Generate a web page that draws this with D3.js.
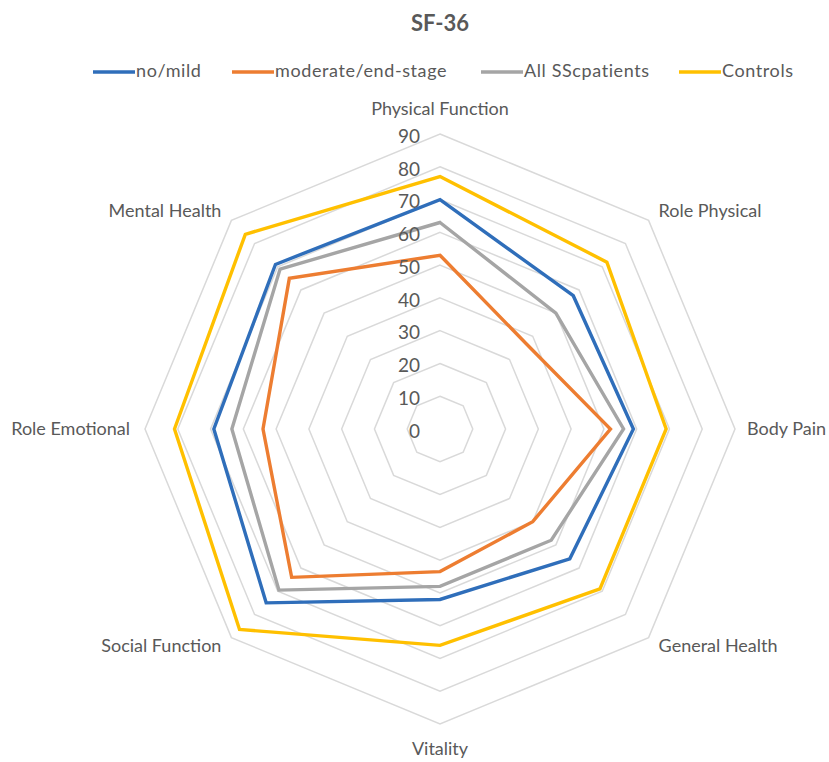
<!DOCTYPE html>
<html>
<head>
<meta charset="utf-8">
<script src="https://cdn.jsdelivr.net/npm/d3@7"></script>
<style>
  body { margin:0; background:#fff; }
  svg text { font-family: Lato, "Open Sans", sans-serif; fill:#595959; }
</style>
</head>
<body>
<svg id="chart" width="829" height="762"></svg>
<script>
'use strict';
const axes = ['Physical Function','Role Physical','Body Pain','General Health','Vitality','Social Function','Role Emotional','Mental Health'];
const seriesNames = ['no/mild','moderate/end-stage','All SScpatients','Controls'];
const noMild   = [70, 57.5, 59, 56, 52, 75, 69, 71];
const moderate = [53, 37, 52, 40, 43.5, 64, 54, 65];
const allSSc   = [63, 50, 56, 48, 48, 69.5, 63.5, 69];
const controls = [77, 72, 69, 69, 66, 86.5, 81, 84];
const ticks = [0,10,20,30,40,50,60,70,80,90];

const colors = ['#2F6EBA','#ED7D31','#A5A5A5','#FFC000'];
const series = [noMild, moderate, allSSc, controls];

const svg = d3.select('#chart');
const cx = 440, cy = 429, R = 295;
const r = d3.scaleLinear().domain([0, 90]).range([0, R]);
const ang = i => i * 2 * Math.PI / axes.length;
const pt = (i, v) => [cx + r(v) * Math.sin(ang(i)), cy - r(v) * Math.cos(ang(i))];

// title
svg.append('text').attr('x', cx).attr('y', 31).attr('text-anchor','middle')
  .style('font-size','22px').style('font-weight','bold').text('SF-36');

// grid octagons
const grid = svg.append('g');
ticks.slice(1).forEach(t => {
  grid.append('polygon')
    .attr('points', axes.map((a,i) => pt(i,t).join(',')).join(' '))
    .attr('fill','none').attr('stroke','#d9d9d9').attr('stroke-width',1.5);
});

// series
const line = d3.line().curve(d3.curveLinearClosed);
series.forEach((vals, s) => {
  svg.append('path')
    .attr('d', line(vals.map((v,i) => pt(i,v))))
    .attr('fill','none').attr('stroke',colors[s]).attr('stroke-width',3.4)
    .attr('stroke-linejoin','miter');
});

// radial tick labels
svg.append('g').selectAll('text').data(ticks).join('text')
  .attr('x', cx - 20).attr('y', d => cy - r(d) + 4)
  .attr('text-anchor','end').attr('dominant-baseline','middle')
  .style('font-size','19px').text(d => d);

// axis labels
axes.forEach((name, i) => {
  const s = Math.sin(ang(i)), c = Math.cos(ang(i));
  const [x, y] = pt(i, 90);
  let tx = x, ty = y, anchor = 'middle';
  if (Math.abs(s) < 0.01) { ty = y - c * 25; }
  else {
    anchor = s > 0 ? 'start' : 'end';
    tx = x + (s > 0 ? 10 : -10);
    if (Math.abs(c) > 0.01) ty = y - c * 12;
    else tx = x + (s > 0 ? 12 : -15);
  }
  svg.append('text').attr('x', tx).attr('y', ty + 1).attr('text-anchor', anchor)
    .attr('dominant-baseline','middle').style('font-size','18px').text(name);
});

// legend
const legX = [93, 232, 481, 679];
const leg = svg.append('g');
seriesNames.forEach((n, s) => {
  leg.append('line').attr('x1', legX[s]).attr('x2', legX[s] + 42)
    .attr('y1', 72).attr('y2', 72).attr('stroke', colors[s]).attr('stroke-width', 3.4);
  leg.append('text').attr('x', legX[s] + 43).attr('y', 72).attr('dominant-baseline','middle')
    .style('font-size','18px').style('letter-spacing','0.6px').text(n);
});
</script>
</body>
</html>
